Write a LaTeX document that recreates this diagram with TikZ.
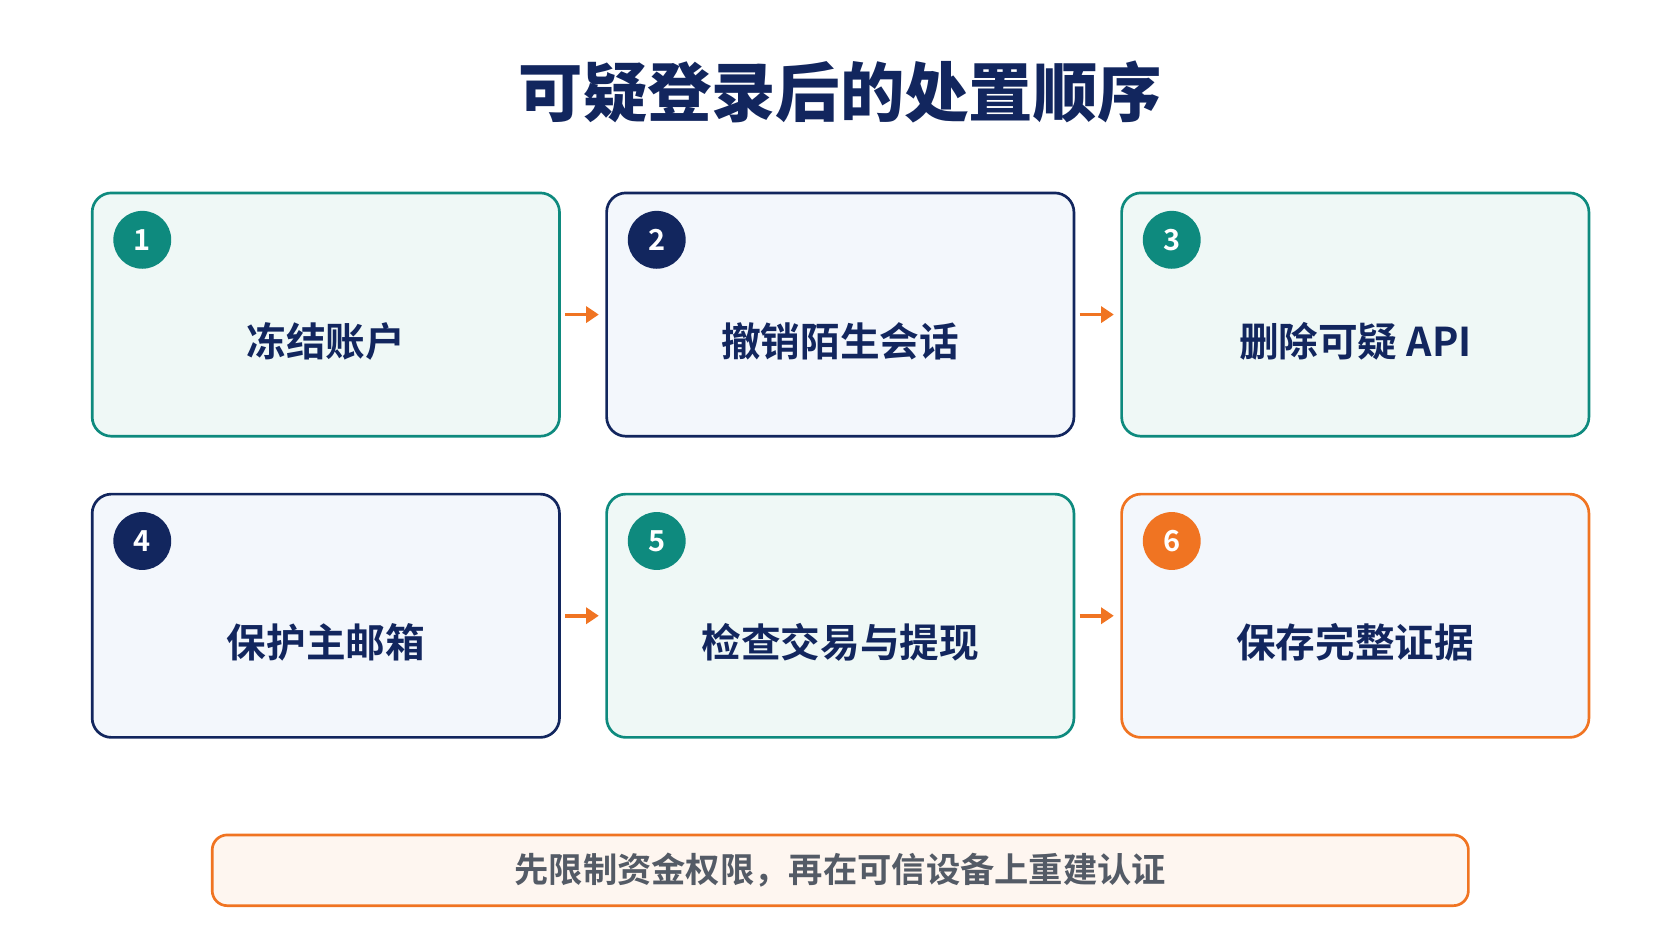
\documentclass[tikz,border=0pt]{standalone}
\usepackage{fontspec}
\newfontfamily\cjk{Noto Sans CJK SC}[BoldFont={* Bold}]
\newfontfamily\cjkblack{Noto Sans CJK SC Black}
\usetikzlibrary{arrows.meta}
\definecolor{teal}{HTML}{0E8A7E}
\definecolor{navy}{HTML}{12265E}
\definecolor{orng}{HTML}{F07422}
\definecolor{tl}{HTML}{EFF8F6}
\definecolor{nl}{HTML}{F3F7FC}
\definecolor{ol}{HTML}{FEF6F0}
\definecolor{gr}{HTML}{545B66}
\begin{document}
\begin{tikzpicture}[x=1pt,y=-1pt,
 box/.style={draw=#1,line width=2.5pt,rounded corners=18pt,minimum width=436pt,minimum height=227pt},
 num/.style={circle,fill=#1,minimum size=54pt,inner sep=0pt,text=white,font=\cjk\bfseries\fontsize{27}{27}\selectfont},
 lab/.style={text=navy,font=\cjk\bfseries\fontsize{37}{40}\selectfont},
 arr/.style={-{Triangle[length=12pt,width=15pt]},draw=orng,line width=3.5pt}]
\useasboundingbox (0,0) rectangle (1560,878);
\node[text=navy,font=\cjkblack\fontsize{60}{62}\selectfont] (title) at (784,86) {可疑登录后的处置顺序};
\foreach \n/\x/\y/\c/\f/\t in {1/304/293.5/teal/tl/冻结账户,2/784/293.5/navy/nl/撤销陌生会话,3/1264.5/293.5/teal/tl/删除可疑 API,4/304/574.5/navy/nl/保护主邮箱,5/784/574.5/teal/tl/检查交易与提现,6/1264.5/574.5/orng/nl/保存完整证据}{
 \node[box=\c,fill=\f] (b\n) at (\x,\y) {};
 \node[num=\c] (c\n) at ([xshift=48pt,yshift=-45pt]b\n.north west) {\n};
 \node[lab] (t\n) at ([yshift=-25pt]b\n.center) {\t};
}
\draw[arr] ([xshift=4pt]b1.east) -- ([xshift=-6pt]b2.west);
\draw[arr] ([xshift=4pt]b2.east) -- ([xshift=-6pt]b3.west);
\draw[arr] ([xshift=4pt]b4.east) -- ([xshift=-6pt]b5.west);
\draw[arr] ([xshift=4pt]b5.east) -- ([xshift=-6pt]b6.west);
\node[draw=orng,fill=ol,line width=2.5pt,rounded corners=14pt,minimum width=1172pt,minimum height=66pt,text=gr,font=\cjk\bfseries\fontsize{32}{34}\selectfont] (note) at (784,812) {先限制资金权限，再在可信设备上重建认证};
\end{tikzpicture}
\end{document}
